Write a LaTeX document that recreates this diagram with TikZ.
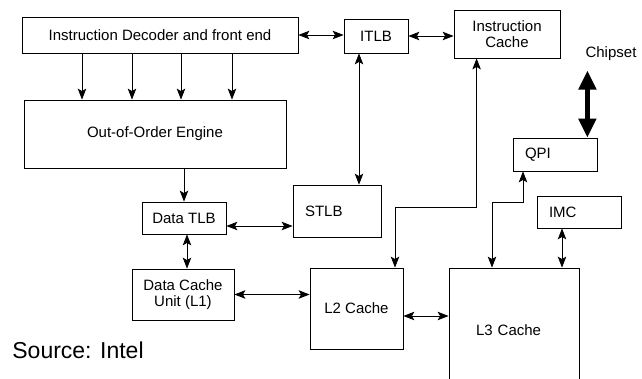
\documentclass[tikz,border=0pt]{standalone}
\usepackage{fontspec}
\setmainfont{Liberation Sans}
\usetikzlibrary{positioning, arrows.meta, calc}

\begin{document}
\begin{tikzpicture}[x=1pt, y=-1pt,
    every node/.style={font=\fontsize{15}{16}\selectfont},
    unit/.style={draw, line width=0.8pt, inner sep=0pt, align=center},
    lunit/.style={unit, align=left},
    onearrow/.style={line width=0.8pt, -{Stealth[length=11pt, width=8.5pt, inset=2.5pt]}},
    biarrow/.style={line width=0.8pt, {Stealth[length=11pt, width=8.5pt, inset=2.5pt]}-{Stealth[length=11pt, width=8.5pt, inset=2.5pt]}},
    fatarrow/.style={line width=5.5pt, {Stealth[length=19pt, width=17pt, inset=0pt]}-{Stealth[length=19pt, width=17pt, inset=0pt]}}]
      \useasboundingbox (0,0) rectangle (642,379);

      % front end
      \node[unit, minimum width=276, minimum height=36] (decoder) at (160,35) {Instruction Decoder and front end};
      \node[unit, minimum width=262, minimum height=68] (ooo) at (155,134) {Out-of-Order Engine};
      \foreach \x in {82,132,181,232}
        \draw[onearrow] (decoder.south -| \x,0) -- (ooo.north -| \x,0);

      \node[unit, minimum width=64, minimum height=34] (itlb) at (376,36) {ITLB};
      \node[unit, minimum width=106, minimum height=48] (icache) at (507,34) {Instruction\\Cache};
      \draw[biarrow] (decoder.east) -- (decoder.east -| itlb.west);
      \draw[biarrow] (itlb.east) -- (itlb.east -| icache.west);

      % data side
      \node[unit, minimum width=84, minimum height=32] (dtlb) at (184,218) {Data TLB};
      \node[lunit, text width=64, inner xsep=12, minimum height=52] (stlb) at (337,211) {STLB};
      \node[unit, minimum width=102, minimum height=51] (dcu) at (183,294.5) {Data Cache\\Unit (L1)};
      \draw[onearrow] (dtlb.north |- ooo.south) -- (dtlb.north);
      \draw[biarrow] ([xshift=-17pt]itlb.south) -- ([xshift=-17pt]itlb.south |- stlb.north);
      \draw[biarrow] ([yshift=-8pt]dtlb.east) -- ([yshift=-8pt]dtlb.east -| stlb.west);
      \draw[biarrow] ([xshift=3pt]dtlb.south) -- ([xshift=3pt]dtlb.south |- dcu.north);

      % caches and uncore
      \node[unit, minimum width=93, minimum height=81] (l2) at (356.5,308.5) {L2 Cache};
      \begin{scope}
        \clip (0,0) rectangle (642,379);
        \node[lunit, text width=76, inner xsep=27, minimum height=124] (l3) at (514,330) {L3 Cache};
      \end{scope}
      \node[lunit, text width=60, inner xsep=12, minimum height=33] (qpi) at (555,154.5) {QPI};
      \node[lunit, text width=60, inner xsep=12, minimum height=32] (imc) at (579,212) {IMC};
      \node (chipset) at (611,54) {Chipset};

      \draw[biarrow] (dcu.east) -- (dcu.east -| l2.west);
      \draw[biarrow] ([yshift=-7.5pt]l2.east) -- ([yshift=-7.5pt]l2.east -| l3.west);
      \coordinate (cbend) at (395,207);
      \draw[biarrow] (cbend |- l2.north) -- (cbend) -| ([xshift=23pt]icache.south west);
      \coordinate (qbend) at (492,202);
      \draw[biarrow] ([xshift=-32pt]qpi.south) |- (qbend) -- (qbend |- l3.north);
      \draw[biarrow] ([xshift=-17pt]imc.south) -- ([xshift=-17pt]imc.south |- l3.north);
      \draw[fatarrow] ([xshift=-10pt]qpi.north east) -- ([xshift=-10pt,yshift=-6pt]qpi.north east |- chipset.south);

      \node[font=\fontsize{23}{26}\selectfont] (source) at (78,350) {Source: Intel};
\end{tikzpicture}
\end{document}
